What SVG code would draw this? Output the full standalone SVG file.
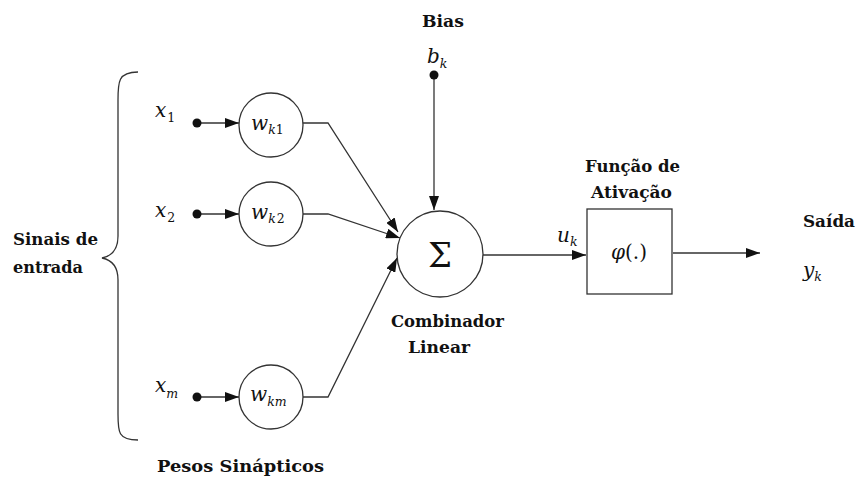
<svg xmlns="http://www.w3.org/2000/svg" width="858" height="478" viewBox="0 0 858 478">
  <style>
    text { font-family: "DejaVu Serif", "Liberation Serif", serif; fill: #111; }
    .lbl { font-weight: bold; font-size: 16.5px; }
    .math { font-style: italic; font-size: 20px; }
    .sub { font-size: 12.5px; }
    .up { font-style: normal; }
    .node { fill: #fff; stroke: #333; stroke-width: 1.3; }
    .wire { fill: none; stroke: #333; stroke-width: 1.3; }
    .dot { fill: #111; }
  </style>
  <defs>
    <marker id="arr" viewBox="0 0 14 10" refX="14" refY="5" markerWidth="14" markerHeight="10" markerUnits="userSpaceOnUse" orient="auto">
      <path d="M0,0 L14,5 L0,10 Z" fill="#111"/>
    </marker>
  </defs>

  <rect width="858" height="478" fill="#fff"/>

  <!-- input brace and its label -->
  <path class="wire" d="M138,72 C118,72 118,82 118,100 L118,236 C118,250 112,256 102,258 C112,260 118,266 118,280 L118,414 C118,432 118,440 138,440" stroke-width="1.6"/>
  <text class="lbl" x="13" y="245" textLength="85" lengthAdjust="spacingAndGlyphs">Sinais de</text>
  <text class="lbl" x="13" y="273" textLength="70" lengthAdjust="spacingAndGlyphs">entrada</text>

  <!-- connectors -->
  <g id="connectors">
    <line class="wire" x1="197" y1="123" x2="239" y2="123" marker-end="url(#arr)"/>
    <line class="wire" x1="197" y1="214" x2="239" y2="214" marker-end="url(#arr)"/>
    <line class="wire" x1="197" y1="397" x2="239" y2="397" marker-end="url(#arr)"/>
    <polyline class="wire" points="303,123 328,123 398,232" marker-end="url(#arr)"/>
    <polyline class="wire" points="303,214 328,214 400,238" marker-end="url(#arr)"/>
    <polyline class="wire" points="303,397 328,397 397,258" marker-end="url(#arr)"/>
    <line class="wire" x1="434" y1="75" x2="434" y2="210" marker-end="url(#arr)"/>
    <line class="wire" x1="483" y1="255" x2="586" y2="255" marker-end="url(#arr)"/>
    <line class="wire" x1="673" y1="253" x2="760" y2="253" marker-end="url(#arr)"/>
    <circle class="dot" cx="197" cy="123" r="4.5"/>
    <circle class="dot" cx="197" cy="214" r="4.5"/>
    <circle class="dot" cx="197" cy="397" r="4.5"/>
    <circle class="dot" cx="434" cy="75" r="4.5"/>
  </g>

  <!-- input signals -->
  <g id="x1"><text class="math" x="155" y="117">x<tspan class="sub up" dx="1" dy="5">1</tspan></text></g>
  <g id="x2"><text class="math" x="155" y="217">x<tspan class="sub up" dx="1" dy="5">2</tspan></text></g>
  <g id="xm"><text class="math" x="155" y="392">x<tspan class="sub" dy="6">m</tspan></text></g>

  <!-- synaptic weights -->
  <g id="wk1">
    <circle class="node" cx="271" cy="125" r="32"/>
    <text class="math" x="251" y="130">w<tspan class="sub" dy="4">k</tspan><tspan class="sub up">1</tspan></text>
  </g>
  <g id="wk2">
    <circle class="node" cx="271" cy="214" r="32"/>
    <text class="math" x="251" y="219">w<tspan class="sub" dy="4">k</tspan><tspan class="sub up" dx="1">2</tspan></text>
  </g>
  <g id="wkm">
    <circle class="node" cx="271" cy="397" r="32"/>
    <text class="math" x="250" y="401">w<tspan class="sub" dy="5">km</tspan></text>
  </g>
  <text class="lbl" x="157" y="472" textLength="167" lengthAdjust="spacingAndGlyphs">Pesos Sinápticos</text>

  <!-- bias input -->
  <g id="bias">
    <text class="lbl" x="422" y="27" textLength="42" lengthAdjust="spacingAndGlyphs">Bias</text>
    <text class="math" x="427" y="63">b<tspan class="sub" dy="5">k</tspan></text>
  </g>

  <!-- linear combiner -->
  <g id="sum">
    <circle class="node" cx="440" cy="254" r="43"/>
    <text x="440" y="267" text-anchor="middle" font-size="34">Σ</text>
    <text class="lbl" x="391" y="327" textLength="113" lengthAdjust="spacingAndGlyphs">Combinador</text>
    <text class="lbl" x="408" y="353" textLength="62" lengthAdjust="spacingAndGlyphs">Linear</text>
  </g>
  <text class="math" x="557" y="242">u<tspan class="sub" dy="4">k</tspan></text>

  <!-- activation function -->
  <g id="activation">
    <rect class="node" x="587" y="209" width="85" height="85"/>
    <text x="629" y="259" text-anchor="middle" font-size="20"><tspan font-style="italic">φ</tspan>(.)</text>
    <text class="lbl" x="585" y="172" textLength="95" lengthAdjust="spacingAndGlyphs">Função de</text>
    <text class="lbl" x="591" y="198" textLength="81" lengthAdjust="spacingAndGlyphs">Ativação</text>
  </g>

  <!-- output -->
  <g id="output">
    <text class="lbl" x="803" y="227" textLength="52" lengthAdjust="spacingAndGlyphs">Saída</text>
    <text class="math" x="803" y="277">y<tspan class="sub" dy="4">k</tspan></text>
  </g>
</svg>
